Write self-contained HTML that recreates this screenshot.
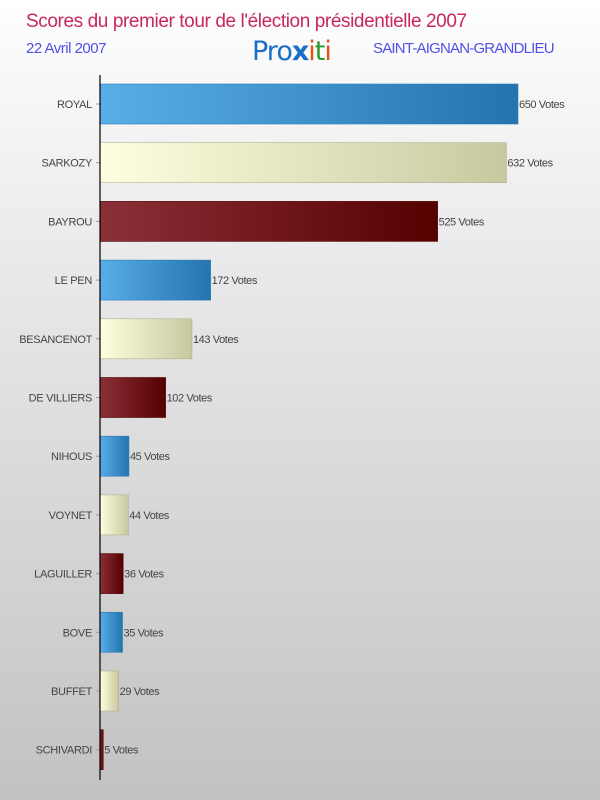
<!DOCTYPE html>
<html><head><meta charset="utf-8"><style>
html,body{margin:0;padding:0}
body{width:600px;height:800px;overflow:hidden;background:linear-gradient(#ffffff 0%,#f4f4f4 15%,#c2c2c2 100%);font-family:"Liberation Sans",sans-serif;position:relative}
.t{position:absolute;white-space:nowrap}
</style></head><body>
<div class="t" style="left:26px;top:11px;font-size:19px;color:#c8285a;letter-spacing:-0.4px">Scores du premier tour de l'élection présidentielle 2007</div>
<div class="t" style="left:26px;top:40px;font-size:15px;color:#5050e8;letter-spacing:-0.5px">22 Avril 2007</div>
<div class="t" style="left:252px;top:36px;font-size:27px;font-family:'DejaVu Sans',sans-serif;letter-spacing:-1px"><span style="color:#1a6fc4">Pro</span><span style="color:#1a6fc4;font-weight:bold">x</span><span style="color:#e8501a">i</span><span style="color:#2a9a2a">t</span><span style="color:#e8501a">i</span></div>
<div class="t" style="left:373px;top:40px;font-size:15px;color:#5050e8;letter-spacing:-0.8px">SAINT-AIGNAN-GRANDLIEU</div>
<svg id="chart" width="600" height="800" style="position:absolute;left:0;top:0">
<defs>
<linearGradient id="g0" x1="0" x2="1"><stop offset="0" stop-color="#5aaee8"/><stop offset="1" stop-color="#2474ae"/></linearGradient>
<linearGradient id="g1" x1="0" x2="1"><stop offset="0" stop-color="#ffffe0"/><stop offset="1" stop-color="#c8c8a0"/></linearGradient>
<linearGradient id="g2" x1="0" x2="1"><stop offset="0" stop-color="#8a3038"/><stop offset="1" stop-color="#560000"/></linearGradient>
</defs>
</svg>
<script>
const candidates=["ROYAL","SARKOZY","BAYROU","LE PEN","BESANCENOT","DE VILLIERS","NIHOUS","VOYNET","LAGUILLER","BOVE","BUFFET","SCHIVARDI"];
const votes=[650,632,525,172,143,102,45,44,36,35,29,5];
const svg=document.getElementById('chart');
const NS='http://www.w3.org/2000/svg';
const x0=100,scale=418/650,rowTop=84,rowStep=58.7,barH=40;
const xs=v=>x0+v*scale, ys=i=>rowTop+i*rowStep;
const strokes=["#2a7ab8","#b0b090","#500000"];
candidates.forEach((c,i)=>{
 const y=ys(i),w=xs(votes[i])-x0;
 const r=document.createElementNS(NS,'rect');
 
 
 r.setAttribute('x',x0);r.setAttribute('y',y);r.setAttribute('width',w);r.setAttribute('height',barH);
 r.setAttribute('fill','url(#g'+(i%3)+')');r.setAttribute('stroke',strokes[i%3]);r.setAttribute('stroke-width','0.6');
 svg.appendChild(r);
 const l=document.createElementNS(NS,'text');
 
 
 l.setAttribute('x',92);l.setAttribute('y',y+barH/2+4);l.setAttribute('text-anchor','end');
 l.setAttribute('font-size','11');l.setAttribute('fill','#444');l.setAttribute('font-family','Liberation Sans, sans-serif');l.setAttribute('letter-spacing','-0.3');
 l.textContent=c;svg.appendChild(l);
 const t=document.createElementNS(NS,'line');
 
 
 t.setAttribute('x1',96);t.setAttribute('x2',100);t.setAttribute('y1',y+barH/2);t.setAttribute('y2',y+barH/2);t.setAttribute('stroke','#999');
 svg.appendChild(t);
 const v=document.createElementNS(NS,'text');
 
 
 v.setAttribute('x',xs(votes[i])+1);v.setAttribute('y',y+barH/2+4);
 v.setAttribute('font-size','11');v.setAttribute('fill','#444');v.setAttribute('font-family','Liberation Sans, sans-serif');v.setAttribute('letter-spacing','-0.4');
 v.textContent=votes[i]+' Votes';svg.appendChild(v);
});
const ax=document.createElementNS(NS,'line');


ax.setAttribute('x1',x0);ax.setAttribute('x2',x0);ax.setAttribute('y1',75);ax.setAttribute('y2',780);ax.setAttribute('stroke','#000');ax.setAttribute('stroke-width','1.2');
svg.appendChild(ax);
</script>
</body></html>
